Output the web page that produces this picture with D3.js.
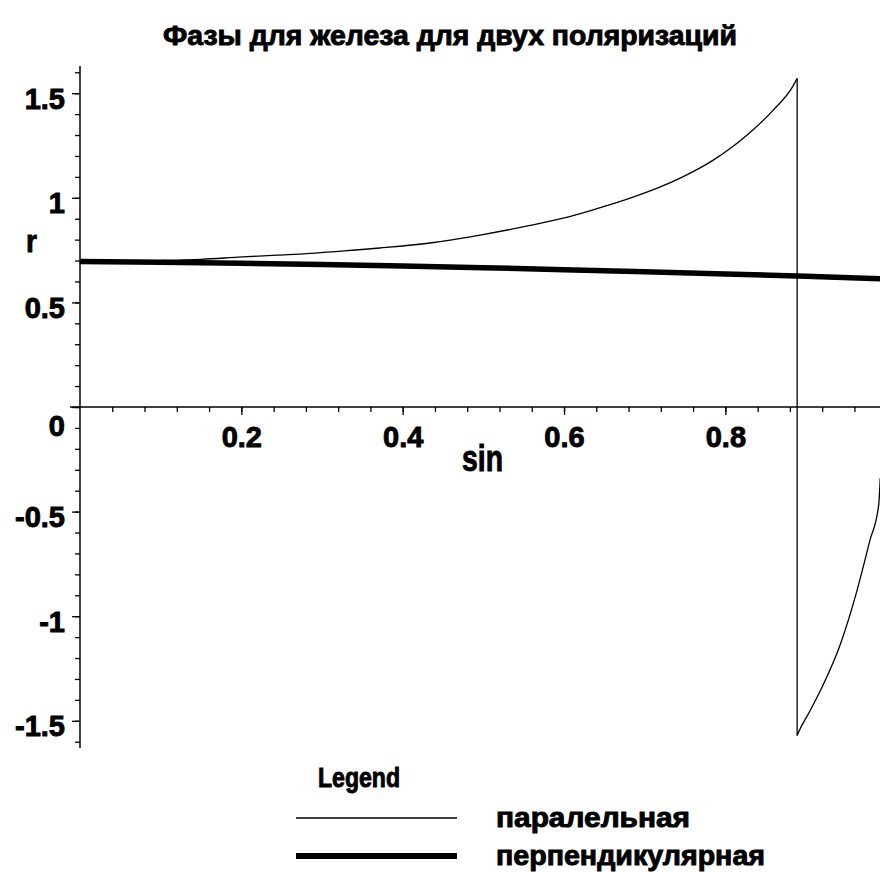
<!DOCTYPE html>
<html>
<head>
<meta charset="utf-8">
<script src="https://cdn.jsdelivr.net/npm/d3@7/dist/d3.min.js"></script>
<style>
  html, body { margin: 0; padding: 0; background: #fff; }
  svg { display: block; }
  text { font-family: "Liberation Sans", Arial, sans-serif; font-weight: bold; fill: #000; stroke: #000; stroke-width: 0.9px; }
</style>
</head>
<body>
<svg id="chart" width="880" height="872"></svg>
<script>
// Phase of the reflected wave for iron, two polarisations, against sin of the incidence angle
const titleText = "Фазы  для железа для двух поляризаций";
const xLabel = "sin";
const yLabel = "r";
const legendTitle = "Legend";
const seriesNames = ["паралельная", "перпендикулярная"];

// parallel polarisation (thin): jumps from +pi/2 to -pi/2 near sin = 0.889
const sinParallel   = [0, 0.10, 0.15, 0.196, 0.244, 0.281, 0.316, 0.372, 0.434, 0.496, 0.558, 0.599, 0.632, 0.682, 0.744, 0.785, 0.827, 0.859, 0.884, 0.889, 0.889, 0.890, 0.905, 0.921, 0.942, 0.963, 0.979, 0.990, 0.992];
const phaseParallel = [0.695, 0.700, 0.706, 0.716, 0.726, 0.733, 0.743, 0.760, 0.784, 0.822, 0.868, 0.903, 0.938, 0.998, 1.094, 1.180, 1.300, 1.418, 1.535, 1.5708, -1.5708, -1.561, -1.452, -1.330, -1.140, -0.880, -0.640, -0.470, -0.340];

// perpendicular polarisation (thick)
const sinPerp   = [0, 0.10, 0.20, 0.30, 0.40, 0.50, 0.60, 0.70, 0.80, 0.90, 0.995];
const phasePerp = [0.695, 0.692, 0.687, 0.681, 0.674, 0.666, 0.656, 0.646, 0.636, 0.625, 0.613];

const xTickValues = [0.2, 0.4, 0.6, 0.8, 1];
const xTickLabels = ["0.2", "0.4", "0.6", "0.8", "1"];
const yTickValues = [-1.5, -1, -0.5, 0, 0.5, 1, 1.5];
const yTickLabels = ["-1.5", "-1", "-0.5", "0", "0.5", "1", "1.5"];

const svg = d3.select("#chart");
svg.append("rect").attr("width", 880).attr("height", 872).attr("fill", "#fff");

const x = d3.scaleLinear().domain([0, 1]).range([80, 886.7]);
const y = d3.scaleLinear().domain([-1.63, 1.63]).range([748, 66]);

// title
svg.append("text")
  .attr("x", 163).attr("y", 45)
  .attr("font-size", 27)
  .attr("textLength", 574).attr("lengthAdjust", "spacingAndGlyphs")
  .text(titleText);

// x axis through y = 0: minor ticks every 0.04, major ticks with labels
const xMinor = d3.range(1, 26).map(i => i * 0.04);
svg.append("g")
  .attr("transform", `translate(0,${y(0)})`)
  .call(d3.axisBottom(x).tickValues(xMinor).tickSize(5).tickFormat(""))
  .call(g => g.select(".domain").remove())
  .call(g => g.selectAll("line").attr("stroke", "#000").attr("stroke-width", 1.3));

const xAxis = svg.append("g")
  .attr("transform", `translate(0,${y(0)})`)
  .call(d3.axisBottom(x).tickValues(xTickValues).tickSize(8)
        .tickFormat((d, i) => xTickLabels[i]));
xAxis.select(".domain").attr("d", `M${x(0) - 10},0H880`).attr("stroke", "#000").attr("stroke-width", 1.5);
xAxis.selectAll("line").attr("stroke", "#000").attr("stroke-width", 1.3);
xAxis.selectAll("text")
  .attr("y", 40).attr("dy", 0)
  .attr("font-size", 29).attr("font-family", "Liberation Sans, Arial, sans-serif")
  .attr("font-weight", "bold").attr("fill", "#000");

// y axis at sin = 0: minor ticks every 0.1
const yMinor = d3.range(-16, 17).map(i => i / 10);
svg.append("g")
  .attr("transform", `translate(${x(0)},0)`)
  .call(d3.axisLeft(y).tickValues(yMinor).tickSize(5).tickFormat(""))
  .call(g => g.select(".domain").remove())
  .call(g => g.selectAll("line").attr("stroke", "#000").attr("stroke-width", 1.3));

const yAxis = svg.append("g")
  .attr("transform", `translate(${x(0)},0)`)
  .call(d3.axisLeft(y).tickValues(yTickValues).tickSize(8).tickPadding(7)
        .tickFormat((d, i) => yTickLabels[i]));
yAxis.select(".domain").attr("d", `M0,${y(1.63)}V${y(-1.63)}`).attr("stroke", "#000").attr("stroke-width", 1.5);
yAxis.selectAll("line").attr("stroke", "#000").attr("stroke-width", 1.3);
yAxis.selectAll("text")
  .attr("dy", d => d === 0 ? 28 : 15)
  .attr("font-size", 29).attr("font-family", "Liberation Sans, Arial, sans-serif")
  .attr("font-weight", "bold").attr("fill", "#000");

// axis titles
svg.append("text").attr("x", 26).attr("y", 252)
  .attr("font-size", 32).attr("textLength", 11).attr("lengthAdjust", "spacingAndGlyphs")
  .text(yLabel);
svg.append("text").attr("x", 462).attr("y", 471)
  .attr("font-size", 36).attr("textLength", 41).attr("lengthAdjust", "spacingAndGlyphs")
  .text(xLabel);

// curves: the parallel phase is drawn as smooth branches joined by the vertical jump
const line = d3.line().x(d => x(d[0])).y(d => y(d[1]));
const smooth = d3.line().x(d => x(d[0])).y(d => y(d[1])).curve(d3.curveMonotoneX);
const parallel = sinParallel.map((s, i) => [s, phaseParallel[i]]);
const perp = sinPerp.map((s, i) => [s, phasePerp[i]]);

const branches = [[parallel[0]]];
for (let i = 1; i < parallel.length; i++) {
  if (parallel[i][0] === parallel[i - 1][0]) {
    // vertical jump between branches
    svg.append("path").datum([parallel[i - 1], parallel[i]])
      .attr("d", line).attr("fill", "none").attr("stroke", "#000").attr("stroke-width", 1.3);
    branches.push([parallel[i]]);
  } else {
    branches[branches.length - 1].push(parallel[i]);
  }
}

svg.append("path").datum(perp)
  .attr("d", line).attr("fill", "none").attr("stroke", "#000").attr("stroke-width", 5.5);
branches.forEach(b => {
  svg.append("path").datum(b)
    .attr("d", smooth).attr("fill", "none").attr("stroke", "#000").attr("stroke-width", 1.3);
});

// legend
svg.append("text").attr("x", 318).attr("y", 787)
  .attr("font-size", 27).attr("textLength", 82).attr("lengthAdjust", "spacingAndGlyphs")
  .text(legendTitle);
const legendY = [818, 856];
const legendW = [1.3, 6];
const legendLen = [194, 269];
seriesNames.forEach((name, i) => {
  svg.append("line")
    .attr("x1", 296).attr("x2", 457)
    .attr("y1", legendY[i]).attr("y2", legendY[i])
    .attr("stroke", "#000").attr("stroke-width", legendW[i]);
  svg.append("text")
    .attr("x", 496).attr("y", legendY[i] + 9)
    .attr("font-size", 27)
    .attr("textLength", legendLen[i]).attr("lengthAdjust", "spacingAndGlyphs")
    .text(name);
});
</script>
</body>
</html>
